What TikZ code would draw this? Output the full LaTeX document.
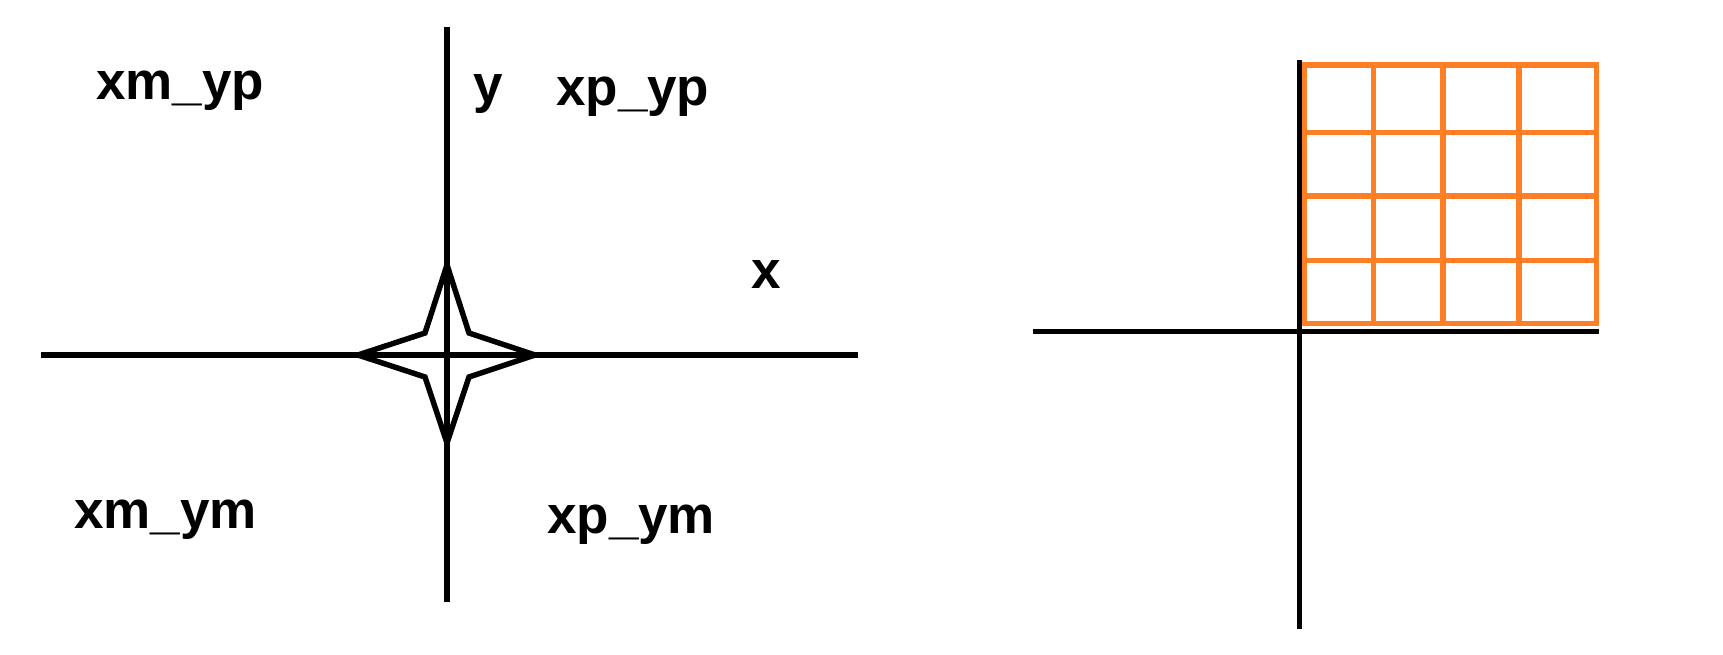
\documentclass[tikz,border=0pt]{standalone}
\usepackage{fontspec}
\setmainfont{Liberation Sans}
\definecolor{paintorange}{RGB}{255,127,39}
\tikzset{
  axisline/.style={draw=black,line width=5.5pt},
  starline/.style={draw=black,line width=5.5pt,line join=miter},
  gridline/.style={draw=paintorange,line width=5.5pt},
  lab/.style={anchor=base west,inner sep=0pt,font=\fontsize{53}{60}\selectfont\bfseries}
}
\begin{document}
\begin{tikzpicture}[x=1pt,y=-1pt]
\useasboundingbox (0,0) rectangle (1723,655);
% left diagram axes
\coordinate (vt) at (447,27);
\coordinate (vb) at (447,602);
\coordinate (hl) at (41,355);
\coordinate (hr) at (858,355);
\draw[axisline] (vt) -- (vb);
\draw[axisline] (hl) -- (hr);
% star
\coordinate (c) at (447,355);
\draw[starline] (447,265) -- (469,333) -- (535,355) -- (469,377) -- (447,443)
  -- (425,377) -- (358,355) -- (425,333) -- cycle;
% labels
\node[lab] (xmyp) at (96,100) {xm\_yp};
\node[lab] (ylab) at (473,103) {y};
\node[lab] (xpyp) at (556,106) {xp\_yp};
\node[lab] (xlab) at (751,288) {x};
\node[lab] (xmym) at (74,528) {xm\_ym};
\node[lab] (xpym) at (547,533) {xp\_ym};
% right diagram grid
\foreach \gx in {1304.3,1373.3,1443,1519,1596.5}
  \draw[gridline] (\gx,64.8) -- (\gx,323.3);
\foreach \gy in {64.8,132.6,195.8,260.6,323.3}
  \draw[gridline] (1304.3,\gy) -- (1596.5,\gy);
\draw[gridline,line join=miter] (1304.3,64.8) rectangle (1596.5,323.3);
% right diagram axes
\coordinate (rvt) at (1299.5,60.5);
\coordinate (rvb) at (1299.5,629);
\coordinate (rhl) at (1033,331.7);
\coordinate (rhr) at (1599,331.7);
\draw[axisline] (rvt) -- (rvb);
\draw[axisline] (rhl) -- (rhr);
\end{tikzpicture}
\end{document}
